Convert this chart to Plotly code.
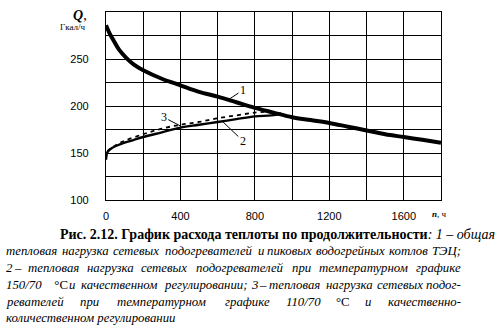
import plotly.graph_objects as go

# ---- data ----
hours1 = [0, 20, 40, 70, 110, 150, 200, 300, 400, 500, 600, 700, 800, 900, 1000, 1100, 1200, 1300, 1400, 1500, 1600, 1700, 1800]
q1 = [286, 277, 270, 260, 251, 244, 238, 229, 222, 215, 210, 204, 198, 193, 188, 185, 182, 178, 174, 170, 167, 164, 161]

hours2 = [0, 8, 30, 60, 100, 150, 200, 300, 400, 500, 600, 700, 800, 890, 940]
q2 = [143, 151, 155, 158, 161, 164, 167, 172, 177, 180, 183, 186, 189, 190, 192]

hours3 = [0, 10, 50, 100, 200, 300, 400, 500, 600, 700, 800, 880]
q3 = [143, 152, 158, 163, 170, 176, 180, 183, 187, 190, 193, 194]

x_ticks = [0, 200, 400, 600, 800, 1000, 1200, 1400, 1600, 1800]
x_labels = ["0", "", "400", "", "800", "", "1200", "", "1600", ""]
y_ticks = [100, 125, 150, 175, 200, 225, 250, 275, 300]
y_labels = ["100", "", "150", "", "200", "", "250", "", ""]

caption_title = "<b>Рис. 2.12. График расхода теплоты по продолжительности</b><i>: 1 – общая</i>"
caption_words = [
    ["тепловая", "нагрузка", "сетевых", "подогревателей", "и", "пиковых", "водогрейных", "котлов", "ТЭЦ;"],
    ["2", "–", "тепловая", "нагрузка", "сетевых", "подогревателей", "при", "температурном", "графике"],
    ["150/70\u2003°С", "и", "качественном", "регулировании;", "3", "–", "тепловая", "нагрузка", "сетевых", "подог-"],
    ["ревателей", "при", "температурном", "графике", "110/70", "°С", "и", "качественно-"],
]
caption_last = "количественном регулировании"

W, H = 500, 328
L, R, T, B = 106, 441, 12, 200
def px(x):
    return (x - L) / (R - L)
def py(y):
    return (B - y) / (B - T)

serif = "Liberation Serif"
sans = "Liberation Sans"

fig = go.Figure()
fig.add_trace(go.Scatter(x=hours1, y=q1, mode="lines", line=dict(color="black", width=4, shape="spline"), showlegend=False))
fig.add_trace(go.Scatter(x=hours3, y=q3, mode="lines", line=dict(color="black", width=1.8, dash="4px,4px", shape="spline"), showlegend=False))
fig.add_trace(go.Scatter(x=hours2, y=q2, mode="lines", line=dict(color="black", width=2.4, shape="spline"), showlegend=False))

ann = []
for txt, x, y, ax, ay in [("1", 656, 206.5, 736, 217), ("2", 629, 183, 735, 163), ("3", 398, 179, 310, 188)]:
    ann.append(dict(x=x, y=y, ax=ax, ay=ay, xref="x", yref="y", axref="x", ayref="y",
                    text=txt, showarrow=True, arrowhead=0, arrowwidth=1, arrowcolor="black",
                    font=dict(family=serif, size=12, color="black"), standoff=0))

ann.append(dict(x=px(80), y=py(15), xref="paper", yref="paper", text="<b><i>Q</i></b>,",
                showarrow=False, font=dict(family=serif, size=14, color="black"), xanchor="center", yanchor="middle"))
ann.append(dict(x=px(73), y=py(27), xref="paper", yref="paper", text="Гкал/ч",
                showarrow=False, font=dict(family=serif, size=9, color="black"), xanchor="center", yanchor="middle"))
ann.append(dict(x=px(430), y=py(214), xref="paper", yref="paper", text="<b><i>п</i></b>, ч",
                showarrow=False, font=dict(family=serif, size=9, color="black"), xanchor="left", yanchor="middle"))

# ---- caption (justified by word placement) ----
FS = 12.8
WIDTHS = {}
for ch in "0123456789–":
    WIDTHS[ch] = 0.5
for ch in "/;:-":
    WIDTHS[ch] = 0.3
WIDTHS["°"] = 0.4
WIDTHS["\u2003"] = 1.0
for ch in "СТЭЦ":
    WIDTHS[ch] = 0.74
for ch in "мшщжыюфт":
    WIDTHS[ch] = 0.7
for ch in "ecсвкгзухьэ":
    WIDTHS[ch] = 0.46
def est_w(word):
    return sum(WIDTHS.get(c, 0.52) for c in word) * FS

def fmt(word):
    if "°С" in word:
        head = word.replace("°С", "")
        return ("<i>" + head + "</i>" if head else "") + "°С"
    return "<i>" + word + "</i>"

TX_L, TX_R = 4, 463
line_y = [251, 268, 285, 302]
for words, yy in zip(caption_words, line_y):
    ws = [est_w(w) for w in words]
    gap = (TX_R - TX_L - sum(ws)) / (len(words) - 1)
    cur = TX_L
    for i, (w, wd) in enumerate(zip(words, ws)):
        if i == 0:
            xa, xx = "left", TX_L
        elif i == len(words) - 1:
            xa, xx = "right", TX_R
        else:
            xa, xx = "center", cur + wd / 2
        ann.append(dict(x=px(xx), y=py(yy), xref="paper", yref="paper", text=fmt(w), showarrow=False,
                        xanchor=xa, yanchor="middle", font=dict(family=serif, size=FS, color="black")))
        cur += wd + gap

ann.append(dict(x=px(58), y=py(234), xref="paper", yref="paper", text=caption_title, showarrow=False,
                xanchor="left", yanchor="middle", font=dict(family=serif, size=14, color="black")))
ann.append(dict(x=px(TX_L), y=py(318), xref="paper", yref="paper", text="<i>" + caption_last + "</i>", showarrow=False,
                xanchor="left", yanchor="middle", font=dict(family=serif, size=FS, color="black")))

fig.update_layout(
    width=W, height=H,
    margin=dict(l=L, r=W - R, t=T, b=H - B),
    paper_bgcolor="white", plot_bgcolor="white",
    annotations=ann,
    font=dict(family=sans, size=11, color="black"),
)
fig.update_xaxes(range=[0, 1800], tickvals=x_ticks, ticktext=x_labels, showgrid=True, gridcolor="black", gridwidth=1.3,
                 showline=True, linecolor="black", linewidth=1.3, mirror=True,
                 ticks="outside", ticklen=6, tickcolor="rgba(0,0,0,0)",
                 zeroline=False, tickfont=dict(family=sans, size=11, color="black"))
fig.update_yaxes(range=[100, 300], tickvals=y_ticks, ticktext=y_labels, showgrid=True, gridcolor="black", gridwidth=1.3,
                 showline=True, linecolor="black", linewidth=1.3, mirror=True,
                 ticks="outside", ticklen=14, tickcolor="rgba(0,0,0,0)",
                 zeroline=False, tickfont=dict(family=sans, size=11, color="black"))

fig.write_html("out.html")
